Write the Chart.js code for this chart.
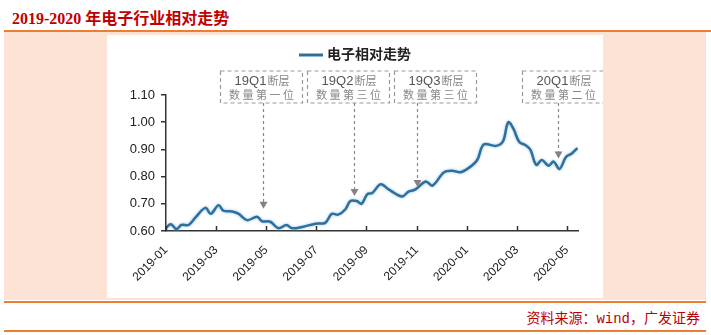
<!DOCTYPE html>
<html>
<head>
<meta charset="utf-8">
<script src="https://cdn.jsdelivr.net/npm/chart.js@4"></script>
<style>
  body { margin: 0; width: 711px; height: 335px; background: #fff; position: relative; overflow: hidden; font-family: "Noto Sans CJK SC", sans-serif; }
  #title { position: absolute; left: 12px; top: 5px; font: bold 16px "Liberation Serif", "Noto Sans CJK SC", serif; color: #c00000; white-space: nowrap; }
  .rule { position: absolute; left: 4px; height: 2px; background: #ed7d31; }
  #panel { position: absolute; left: 4px; top: 32px; width: 702px; height: 268px; background: #fde3d6; }
  #box { position: absolute; left: 103px; top: 3px; width: 496px; height: 263px; background: #fff; }
  #src { position: absolute; right: 11px; top: 307px; font-size: 14px; color: #c00000; white-space: nowrap; }
  #src span { font-family: "Liberation Mono", monospace; }
</style>
</head>
<body>
<div id="title">2019-2020 年电子行业相对走势</div>
<div class="rule" style="top:30px;width:707px"></div>
<div id="panel"><div id="box"><canvas id="chart" width="496" height="263"></canvas></div></div>
<div class="rule" style="top:301px;width:702px"></div>
<div id="src">资料来源：<span>wind</span>，广发证券</div>
<div class="rule" style="top:330px;width:702px"></div>
<script>
// series
const seriesName = '电子相对走势';
const dates = [
  '2019-01-01', '2019-01-07', '2019-01-14', '2019-01-20', '2019-01-29', '2019-02-06',
  '2019-02-17', '2019-02-23', '2019-03-04', '2019-03-10', '2019-03-21', '2019-03-29',
  '2019-04-08', '2019-04-20', '2019-04-26', '2019-05-06', '2019-05-16', '2019-05-26',
  '2019-06-02', '2019-06-14', '2019-06-30', '2019-07-12', '2019-07-20', '2019-07-28',
  '2019-08-06', '2019-08-12', '2019-08-20', '2019-08-26', '2019-09-02', '2019-09-08',
  '2019-09-18', '2019-09-28', '2019-10-14', '2019-10-22', '2019-10-30', '2019-11-12',
  '2019-11-20', '2019-12-04', '2019-12-16', '2019-12-24', '2020-01-04', '2020-01-14',
  '2020-01-22', '2020-02-06', '2020-02-14', '2020-02-20', '2020-02-26', '2020-03-04',
  '2020-03-12', '2020-03-18', '2020-03-25', '2020-04-01', '2020-04-09', '2020-04-15',
  '2020-04-22', '2020-04-30', '2020-05-07', '2020-05-14'
];
const values = [
  0.612, 0.625, 0.607, 0.622, 0.622, 0.650,
  0.685, 0.663, 0.695, 0.675, 0.672, 0.663,
  0.640, 0.652, 0.636, 0.634, 0.610, 0.622,
  0.610, 0.615, 0.627, 0.630, 0.663, 0.660,
  0.680, 0.710, 0.710, 0.700, 0.736, 0.740,
  0.772, 0.752, 0.727, 0.745, 0.752, 0.782,
  0.767, 0.816, 0.821, 0.816, 0.833, 0.861,
  0.918, 0.913, 0.930, 1.000, 0.976, 0.927,
  0.915, 0.897, 0.843, 0.861, 0.840, 0.855,
  0.828, 0.873, 0.885, 0.905
];
const yTicks = [0.6, 0.7, 0.8, 0.9, 1.0, 1.1];
const xTickLabels = ['2019-01', '2019-03', '2019-05', '2019-07', '2019-09', '2019-11', '2020-01', '2020-03', '2020-05'];

// annotations: label lines, date the arrow points at, value of the arrow tip
const annoTitles = ['19Q1', '19Q2', '19Q3', '20Q1'];
const annoLines = ['数量第一位', '数量第三位', '数量第三位', '数量第二位'];
const annoDates = ['2019-04-27', '2019-08-16', '2019-11-02', '2020-04-20'];
const annoTips = [0.682, 0.729, 0.762, 0.867];

// months since 2019-01, fractional
function toMonth(s) {
  const [y, m, d] = s.split('-').map(Number);
  const days = new Date(y, m, 0).getDate();
  return (y - 2019) * 12 + (m - 1) + (d - 1) / days;
}
const points = dates.map((d, i) => ({x: toMonth(d), y: values[i]}));
const xTickVals = xTickLabels.map(l => toMonth(l + '-01'));

const boxShift = [-43, -47, -23, -36];

const annoPlugin = {
  id: 'annos',
  beforeDatasetDraw(chart) {
    const ctx = chart.ctx;
    ctx.save();
    ctx.shadowColor = 'rgba(120,180,225,0.8)';
    ctx.shadowBlur = 3;
  },
  afterDatasetDraw(chart) {
    chart.ctx.restore();
  },
  afterDraw(chart) {
    const ctx = chart.ctx;
    const xs = chart.scales.x, ys = chart.scales.y;
    ctx.save();
    // inward x tick marks
    ctx.strokeStyle = '#333';
    ctx.lineWidth = 1.5;
    xTickVals.forEach(v => {
      const px = Math.round(xs.getPixelForValue(v)) + 0.5;
      ctx.beginPath();
      ctx.moveTo(px, ys.bottom);
      ctx.lineTo(px, ys.bottom - 5);
      ctx.stroke();
    });

    // legend
    ctx.strokeStyle = '#2f6f9c';
    ctx.lineWidth = 3;
    ctx.beginPath();
    ctx.moveTo(192, 20);
    ctx.lineTo(216, 20);
    ctx.stroke();
    ctx.fillStyle = '#222';
    ctx.font = 'bold 14px "Noto Sans CJK SC"';
    ctx.textBaseline = 'middle';
    ctx.textAlign = 'left';
    ctx.fillText(seriesName, 220, 19);

    // annotation boxes and arrows
    annoDates.forEach((d, i) => {
      const ax = Math.round(xs.getPixelForValue(toMonth(d))) + 0.5;
      const tipY = ys.getPixelForValue(annoTips[i]);
      const bx = ax + boxShift[i], by = 36, bw = 82, bh = 32;
      ctx.setLineDash([4, 3]);
      ctx.strokeStyle = '#999';
      ctx.lineWidth = 1.2;
      ctx.strokeRect(bx, by, bw, bh);
      ctx.setLineDash([3, 3]);
      ctx.strokeStyle = '#888';
      ctx.beginPath();
      ctx.moveTo(ax, by + bh);
      ctx.lineTo(ax, tipY - 6);
      ctx.stroke();
      ctx.setLineDash([]);
      ctx.fillStyle = '#8a807c';
      ctx.beginPath();
      ctx.moveTo(ax - 4, tipY - 7);
      ctx.lineTo(ax + 4, tipY - 7);
      ctx.lineTo(ax, tipY);
      ctx.closePath();
      ctx.fill();

      // first line: code + 断层
      const cx = bx + bw / 2;
      ctx.textBaseline = 'middle';
      ctx.font = '13px "Liberation Sans"';
      const w1 = ctx.measureText(annoTitles[i]).width;
      ctx.font = '11px "Noto Sans CJK SC"';
      const w2 = ctx.measureText('断层').width;
      let tx = cx - (w1 + w2) / 2;
      ctx.textAlign = 'left';
      ctx.fillStyle = '#555';
      ctx.font = '13px "Liberation Sans"';
      ctx.fillText(annoTitles[i], tx, by + 10);
      ctx.fillStyle = '#888';
      ctx.font = '11px "Noto Sans CJK SC"';
      ctx.fillText('断层', tx + w1 + 1, by + 10);
      ctx.textAlign = 'center';
      ctx.fillText(annoLines[i].split('').join(' '), cx, by + 24);
    });
    ctx.restore();
  }
};

new Chart(document.getElementById('chart'), {
  type: 'line',
  data: {
    datasets: [{
      label: seriesName,
      data: points,
      borderColor: '#2f6f9c',
      borderWidth: 2.5,
      pointRadius: 0,
      tension: 0.35,
      fill: false
    }]
  },
  options: {
    responsive: false,
    animation: false,
    layout: {padding: {top: 60, right: 25, left: 0, bottom: 0}},
    plugins: {legend: {display: false}, tooltip: {enabled: false}},
    scales: {
      x: {
        type: 'linear',
        min: 0,
        max: 16.44,
        afterBuildTicks: s => { s.ticks = xTickVals.map(v => ({value: v})); },
        afterFit: s => { s.height = 67; },
        grid: {display: false},
        border: {display: true, color: '#333', width: 1.5},
        ticks: {
          callback: (v, i) => xTickLabels[i],
          minRotation: 45,
          maxRotation: 45,
          padding: 4,
          color: '#222',
          font: {family: 'Liberation Sans', size: 12}
        }
      },
      y: {
        min: 0.6,
        max: 1.1,
        afterBuildTicks: s => { s.ticks = yTicks.map(v => ({value: v})); },
        afterFit: s => { s.width = 59; },
        grid: {drawOnChartArea: false, tickLength: 5, color: '#333', lineWidth: 1.5},
        border: {display: true, color: '#333', width: 1.5},
        ticks: {
          callback: v => v.toFixed(2),
          padding: 6,
          color: '#222',
          font: {family: 'Liberation Sans', size: 13}
        }
      }
    }
  },
  plugins: [annoPlugin]
});
</script>
</body>
</html>
